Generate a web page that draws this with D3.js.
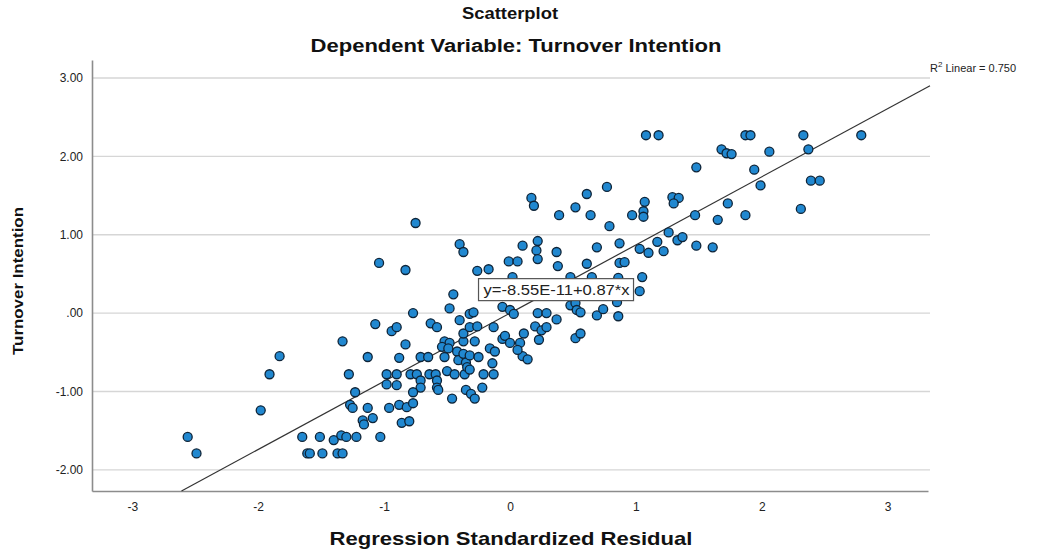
<!DOCTYPE html>
<html>
<head>
<meta charset="utf-8">
<script src="https://cdn.jsdelivr.net/npm/d3@7"></script>
<style>
  body { margin: 0; background: #fff; }
  text { font-family: "Liberation Sans", Arial, sans-serif; }
</style>
</head>
<body>
<div id="chart"></div>
<script>
// regression standardized residual (x) and turnover intention (y)
var residuals = [
  -2.56, -2.49, -1.98, -1.91, -1.83, -1.65, -1.61, -1.59, -1.51, -1.49,
  -1.40, -1.37, -1.34, -1.33, -1.30, -1.22, -1.03, -1.33, -1.28, -1.23,
  -1.27, -1.25, -1.13, -1.17, -1.16, -1.09, -0.86, -0.80, -1.13, -1.07,
  -1.04, -0.94, -0.90, -0.96, -0.88, -0.82, -0.77, -0.98, -0.90, -0.98,
  -0.90, -0.88, -0.83, -0.83, -0.79, -0.74, -0.64, -0.59, -0.77, -0.75,
  -0.71, -0.65, -0.71, -0.58, -0.71, -0.58, -0.57, -0.77, -0.63, -0.58,
  -0.52, -0.48, -0.54, -0.49, -0.52, -0.50, -0.44, -0.46, -0.48, -0.45,
  -0.40, -0.37, -0.40, -0.42, -0.41, -0.37, -0.35, -0.32, -0.37, -0.28,
  -0.37, -0.32, -0.26, -0.32, -0.29, -0.36, -0.34, -0.32, -0.35, -0.31,
  -0.28, -0.25, -0.21, -0.13, -0.22, -0.16, -0.12, -0.14, -0.13, -0.06,
   0.00,  0.03, -0.06, -0.04,  0.00, -0.26, -0.17, -0.01,  0.06,  0.02,
   0.10,  0.17,  0.19,  0.22,  0.21,  0.22,  0.37,  0.38,  0.39,  0.52,
   0.61,  0.77,  0.64,  0.79,  0.97,  1.07,  1.06,  1.06,  0.61,  0.69,
   0.87,  0.87,  0.91,  1.03,  1.10,  1.17,  1.22,  1.26,  1.33,  1.37,
   1.08,  1.18,  1.29,  1.34,  1.30,  1.48,  1.47,  1.48,  1.61,  1.68,
   1.72,  1.76,  1.73,  1.65,  1.87,  1.91,  2.33,  2.79,  2.06,  2.37,
   1.94,  1.99,  2.39,  2.46,  1.87,  2.31,  0.48,  0.65,  0.86,  1.05,
   1.03,  0.48,  0.52,  0.53,  0.56,  0.69,  0.74,  0.86,  0.85,  0.22,
   0.29,  0.37,  0.20,  0.25,  0.29,  0.11,  0.23,  0.08,  0.10,  0.14,
   0.52,  0.56,  0.06
];
var turnover = [
  -1.58, -1.79, -1.24, -0.78, -0.55, -1.58, -1.79, -1.79, -1.58, -1.79,
  -1.62, -1.79, -1.56, -1.79, -1.58, -1.58, -1.58, -0.36, -0.78, -1.01,
  -1.17, -1.21, -1.21, -1.37, -1.42, -1.34, -1.40, -1.38, -0.56, -0.14,
   0.64, -0.23, -0.18, -1.21, -1.17, -1.20, -1.15, -0.78, -0.78, -0.91,
  -0.92, -0.57, -0.40,  0.55, -0.78, -0.78, -0.78, -0.78,  0.00,  1.15,
  -0.56, -0.56, -0.86, -0.86, -0.95, -0.95, -0.98, -1.01, -0.13, -0.18,
  -0.36, -0.38, -0.43, -0.45, -0.56, -0.74, -0.78, -1.09,  0.06,  0.24,
   0.88,  0.78, -0.09, -0.49, -0.60, -0.52, -0.63, -0.54, -0.36, -0.36,
  -0.26, -0.18, -0.17, -0.01,  0.01, -0.78, -0.69, -0.72, -0.98, -1.03,
  -1.09, -0.56, -0.78, -0.78, -0.95, -0.45, -0.49, -0.64, -0.18,  0.08,
   0.04, -0.01, -0.33, -0.29, -0.38,  0.54,  0.56,  0.66,  0.66,  0.46,
   0.86,  1.47,  1.37,  0.92,  0.80,  0.69,  0.78,  0.60,  1.25,  1.35,
   1.52,  1.61,  1.25,  1.11,  1.25,  1.42,  1.30,  1.23,  0.63,  0.84,
   0.89,  0.64,  0.65,  0.82,  0.77,  0.91,  0.79,  1.03,  0.93,  0.97,
   2.27,  2.27,  1.48,  1.47,  1.40,  1.86,  1.25,  0.86,  0.84,  2.09,
   2.04,  2.03,  1.40,  1.19,  2.27,  2.27,  2.27,  2.27,  2.06,  2.09,
   1.83,  1.63,  1.69,  1.69,  1.25,  1.33,  0.46,  0.46,  0.45,  0.46,
   0.28,  0.10,  0.13,  0.04,  0.01, -0.03,  0.05, -0.04,  0.14,  0.00,
   0.00, -0.08, -0.17, -0.22, -0.18, -0.26, -0.34, -0.38, -0.55, -0.59,
  -0.32, -0.26, -0.47
];

var xTicks = [-3, -2, -1, 0, 1, 2, 3];
var xTickLabels = ['-3', '-2', '-1', '0', '1', '2', '3'];
var yTicks = [-2, -1, 0, 1, 2, 3];
var yTickLabels = ['-2.00', '-1.00', '.00', '1.00', '2.00', '3.00'];

// fit line y = a + b*x as reported
var fitA = -8.55e-11;
var fitB = 0.87;
var fitLabel = 'y=-8.55E-11+0.87*x';
var r2 = '0.750';

var chartW = 1051, chartH = 550;
var plotL = 92, plotR = 928, plotT = 60, plotB = 491;

var svg = d3.select('#chart').append('svg')
    .attr('width', chartW).attr('height', chartH);

var x = d3.scaleLinear().domain([-3.32, 3.32]).range([plotL, plotR]);
var y = d3.scaleLinear().domain([-2.27, 3.23]).range([plotB, plotT]);

// grid lines
svg.append('g').selectAll('line').data(yTicks).enter().append('line')
    .attr('x1', plotL).attr('x2', plotR + 2)
    .attr('y1', function(d) { return y(d); }).attr('y2', function(d) { return y(d); })
    .attr('stroke', '#d6d6d6').attr('stroke-width', 1.3);

// axes
var xAxis = d3.axisBottom(x).tickValues(xTicks).tickSize(0).tickPadding(11)
    .tickFormat(function(d, i) { return xTickLabels[i]; });
var yAxis = d3.axisLeft(y).tickValues(yTicks).tickSize(0).tickPadding(9)
    .tickFormat(function(d, i) { return yTickLabels[i]; });

var gx = svg.append('g').attr('transform', 'translate(0,' + plotB + ')').call(xAxis);
var gy = svg.append('g').attr('transform', 'translate(' + plotL + ',0)').call(yAxis);
[gx, gy].forEach(function(g) {
  g.select('.domain').attr('stroke', '#8c8c8c').attr('stroke-width', 1.6);
  g.selectAll('text').attr('font-size', 12).attr('fill', '#222')
      .style('font-family', '"Liberation Sans", Arial, sans-serif');
});

// fit line clipped to plot area
var xStart = (y.domain()[0] - fitA) / fitB;
var xEnd = x.domain()[1] + 0.016;
svg.append('line')
    .attr('x1', x(xStart)).attr('y1', y(fitA + fitB * xStart))
    .attr('x2', x(xEnd)).attr('y2', y(fitA + fitB * xEnd))
    .attr('stroke', '#333').attr('stroke-width', 1.2);

// points
svg.append('g').selectAll('circle').data(residuals).enter().append('circle')
    .attr('cx', function(d) { return x(d); })
    .attr('cy', function(d, i) { return y(turnover[i]); })
    .attr('r', 4.5)
    .attr('fill', '#2188d0')
    .attr('stroke', '#0e2438')
    .attr('stroke-width', 1.3);

// equation box
var eq = svg.append('g').attr('transform', 'translate(' + x(-0.25) + ',' + y(0.44) + ')');
eq.append('rect').attr('x', 0).attr('y', 0).attr('width', 155).attr('height', 22)
    .attr('fill', '#fff').attr('stroke', '#555').attr('stroke-width', 1.2);
eq.append('text').attr('x', 5).attr('y', 16.5).attr('font-size', 15).attr('fill', '#222')
    .attr('textLength', 146).attr('lengthAdjust', 'spacingAndGlyphs')
    .text(fitLabel);

// R squared label
var r2t = svg.append('text').attr('x', plotR + 2).attr('y', 72).attr('font-size', 11).attr('fill', '#222');
r2t.append('tspan').text('R');
r2t.append('tspan').attr('dy', -5).attr('font-size', 8).text('2');
r2t.append('tspan').attr('dy', 5).text(' Linear = ' + r2);

// titles
function title(txt, cx, cy, size, len) {
  svg.append('text').attr('x', cx - len / 2).attr('y', cy)
      .attr('font-size', size).attr('font-weight', 'bold').attr('fill', '#111')
      .attr('textLength', len).attr('lengthAdjust', 'spacingAndGlyphs')
      .text(txt);
}
title('Scatterplot', 510, 19, 17, 96);
title('Dependent Variable: Turnover Intention', 516, 52, 18, 411);
title('Regression Standardized Residual', 511, 545, 18.5, 363);

svg.append('text').attr('transform', 'translate(23,281) rotate(-90)')
    .attr('x', -74).attr('font-size', 15).attr('font-weight', 'bold').attr('fill', '#111')
    .attr('textLength', 148).attr('lengthAdjust', 'spacingAndGlyphs')
    .text('Turnover Intention');
</script>
</body>
</html>
